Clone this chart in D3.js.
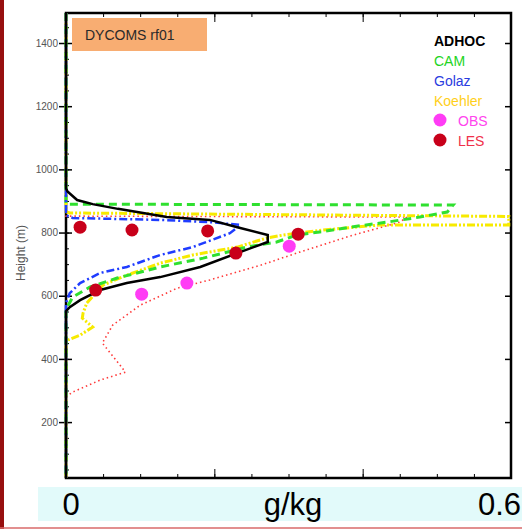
<!DOCTYPE html>
<html>
<head>
<meta charset="utf-8">
<script src="https://cdn.jsdelivr.net/npm/d3@7"></script>
<style>
  body { margin: 0; background: #fff; }
  svg { display: block; font-family: "Liberation Sans", Arial, sans-serif; }
</style>
</head>
<body>
<div id="chart"></div>
<script>
// profiles: height (m) and value (g/kg)
var adhocH = [1495, 940, 930, 903, 890, 875, 862, 849, 840, 817, 792, 770, 735, 691, 659, 640, 618, 586, 564, 551, 23];
var adhocV = [0, 0, 0.002, 0.015, 0.036, 0.07, 0.104, 0.136, 0.194, 0.231, 0.272, 0.272, 0.231, 0.181, 0.127, 0.082, 0.046, 0.019, 0.005, 0, 0];

var camH = [1495, 890, 887, 865, 849, 833, 817, 802, 792, 770, 754, 719, 691, 656, 627, 596, 561, 548, 23];
var camV = [0, 0, 0.522, 0.514, 0.477, 0.433, 0.383, 0.342, 0.311, 0.284, 0.244, 0.185, 0.127, 0.069, 0.032, 0.009, 0.001, 0, 0];

var golazH = [1495, 855, 846, 840, 833, 824, 798, 754, 729, 691, 672, 640, 608, 577, 23];
var golazV = [0, 0, 0.009, 0.127, 0.194, 0.235, 0.221, 0.171, 0.127, 0.082, 0.046, 0.019, 0.005, 0, 0];

var koehlerH = [1495, 866, 862, 851, 824, 824, 808, 792, 783, 754, 729, 703, 665, 634, 577, 545, 529, 501, 475, 460, 450, 23];
var koehlerV = [0, 0, 0.005, 0.597, 0.597, 0.423, 0.347, 0.293, 0.271, 0.231, 0.171, 0.127, 0.082, 0.05, 0.028, 0.023, 0.022, 0.036, 0.019, 0.003, 0, 0];

var lesLineH = [1495, 852, 849, 833, 789, 738, 697, 650, 624, 570, 507, 450, 380, 358, 333, 295, 285, 279, 23];
var lesLineV = [0, 0, 0.46, 0.45, 0.383, 0.315, 0.263, 0.194, 0.15, 0.1, 0.063, 0.049, 0.073, 0.08, 0.046, 0.009, 0.003, 0, 0];

// point data
var lesH = [817, 808, 805, 735, 795, 618];
var lesV = [0.019, 0.089, 0.191, 0.229, 0.313, 0.040];
var obsH = [605, 640, 757];
var obsV = [0.102, 0.163, 0.301];

var yMajor = [200, 400, 600, 800, 1000, 1200, 1400];
var legendNames = ['ADHOC', 'CAM', 'Golaz', 'Koehler', 'OBS', 'LES'];

// Setup
var width = 522, height = 529;
var plot = {left: 66, right: 511, top: 13, bottom: 478};

var svg = d3.select('#chart')
  .append('svg')
  .attr('width', width)
  .attr('height', height);

var x = d3.scaleLinear().domain([0, 0.6]).range([plot.left, plot.right]);
var y = d3.scaleLinear().domain([23, 1495]).range([plot.bottom, plot.top]);

// slide decoration
svg.append('rect').attr('x', 0).attr('y', 0).attr('width', 4).attr('height', height).attr('fill', '#970f0f');
svg.append('line').attr('x1', 0).attr('x2', width).attr('y1', 528).attr('y2', 528)
  .attr('stroke', '#d86a6a').attr('stroke-width', 1.5);

// frame
svg.append('rect')
  .attr('x', plot.left).attr('y', plot.top)
  .attr('width', plot.right - plot.left).attr('height', plot.bottom - plot.top)
  .attr('fill', 'none').attr('stroke', '#000').attr('stroke-width', 2.5);

var minorX = d3.range(0.05, 0.6, 0.05);
var majorX = [0.2, 0.4];
var minorY = d3.range(50, 1495, 50);

function noDomain(g) { g.select('.domain').remove(); }

// top ticks (inside)
svg.append('g').attr('transform', 'translate(0,' + plot.top + ')')
  .call(d3.axisBottom(x).tickValues(minorX).tickSize(4).tickFormat(''))
  .call(noDomain);
svg.append('g').attr('transform', 'translate(0,' + plot.top + ')')
  .call(d3.axisBottom(x).tickValues(majorX).tickSize(9).tickFormat(''))
  .call(noDomain);
// bottom ticks (inside)
svg.append('g').attr('transform', 'translate(0,' + plot.bottom + ')')
  .call(d3.axisTop(x).tickValues(minorX).tickSize(4).tickFormat(''))
  .call(noDomain);
svg.append('g').attr('transform', 'translate(0,' + plot.bottom + ')')
  .call(d3.axisTop(x).tickValues(majorX).tickSize(9).tickFormat(''))
  .call(noDomain);

// left axis: labels + crossing major ticks + inner minor ticks
var yAxis = svg.append('g').attr('transform', 'translate(' + plot.left + ',0)')
  .call(d3.axisLeft(y).tickValues(yMajor).tickSize(7).tickPadding(1).tickFormat(d3.format('d')))
  .call(noDomain);
yAxis.selectAll('text').attr('font-size', 10).attr('fill', '#555');
yAxis.selectAll('line').attr('stroke-width', 1.5);
svg.append('g').attr('transform', 'translate(' + plot.left + ',0)')
  .call(d3.axisRight(y).tickValues(yMajor).tickSize(6).tickFormat(''))
  .call(noDomain)
  .selectAll('line').attr('stroke-width', 1.5);
svg.append('g').attr('transform', 'translate(' + plot.left + ',0)')
  .call(d3.axisRight(y).tickValues(minorY).tickSize(3).tickFormat(''))
  .call(noDomain);
// right axis ticks
svg.append('g').attr('transform', 'translate(' + plot.right + ',0)')
  .call(d3.axisLeft(y).tickValues(yMajor).tickSize(6).tickFormat(''))
  .call(noDomain)
  .selectAll('line').attr('stroke-width', 1.5);

svg.append('text')
  .attr('transform', 'translate(25,253) rotate(-90)')
  .attr('text-anchor', 'middle')
  .attr('font-size', 12)
  .attr('fill', '#555')
  .text('Height (m)');

// profiles
var series = [
  {h: lesLineH, v: lesLineV, color: '#ff3a3a', width: 1.6, dash: '1.5,3'},
  {h: koehlerH, v: koehlerV, color: '#f7ea00', width: 3, dash: '8,2,2,2,2,2'},
  {h: camH, v: camV, color: '#2fe02f', width: 3, dash: '8,5'},
  {h: golazH, v: golazV, color: '#1f3cff', width: 2.5, dash: '8,3,2,3'},
  {h: adhocH, v: adhocV, color: '#000', width: 2.5, dash: null}
];

var line = d3.line()
  .x(function(d) { return x(d[0]); })
  .y(function(d) { return y(d[1]); });

series.forEach(function(s) {
  var pts = s.h.map(function(h, i) { return [s.v[i], h]; });
  svg.append('path')
    .datum(pts)
    .attr('d', line)
    .attr('fill', 'none')
    .attr('stroke', s.color)
    .attr('stroke-width', s.width)
    .attr('stroke-dasharray', s.dash);
});

// dots
svg.selectAll('.les')
  .data(lesH)
  .enter()
  .append('circle')
  .attr('class', 'les')
  .attr('cx', function(d, i) { return x(lesV[i]); })
  .attr('cy', function(d) { return y(d); })
  .attr('r', 6.5)
  .attr('fill', '#c8001a');

svg.selectAll('.obs')
  .data(obsH)
  .enter()
  .append('circle')
  .attr('class', 'obs')
  .attr('cx', function(d, i) { return x(obsV[i]); })
  .attr('cy', function(d) { return y(d); })
  .attr('r', 6.5)
  .attr('fill', '#ff3cf5');

// title box
svg.append('rect')
  .attr('x', 72).attr('y', 18).attr('width', 135).attr('height', 33)
  .attr('fill', '#f8ad72');
svg.append('text')
  .attr('x', 85).attr('y', 40)
  .attr('font-size', 14)
  .attr('fill', '#2a2a2a')
  .text('DYCOMS rf01');

// legend
var legendColors = ['#000', '#22d422', '#2a3ce0', '#ffcf1a', '#ff44ee', '#f0304a'];
var legend = svg.append('g');
legendNames.forEach(function(name, i) {
  var ly = 46 + i * 20;
  var isDot = i >= 4;
  legend.append('text')
    .attr('x', isDot ? 458 : 434)
    .attr('y', ly)
    .attr('font-size', 14)
    .attr('font-weight', i === 0 ? 'bold' : 'normal')
    .attr('fill', legendColors[i])
    .text(name);
  if (isDot) {
    legend.append('circle')
      .attr('cx', 440).attr('cy', ly - 6)
      .attr('r', 6.5)
      .attr('fill', i === 4 ? '#ff3cf5' : '#c8001a');
  }
});

// bottom axis label band
svg.append('rect')
  .attr('x', 38).attr('y', 487).attr('width', width - 38).attr('height', 34)
  .attr('fill', '#e2fafa');
var band = [['0', 71, 'middle'], ['g/kg', 293, 'middle'], ['0.6', 521, 'end']];
band.forEach(function(b) {
  svg.append('text')
    .attr('x', b[1]).attr('y', 515)
    .attr('text-anchor', b[2])
    .attr('font-size', 31)
    .attr('fill', '#000')
    .text(b[0]);
});
</script>
</body>
</html>
